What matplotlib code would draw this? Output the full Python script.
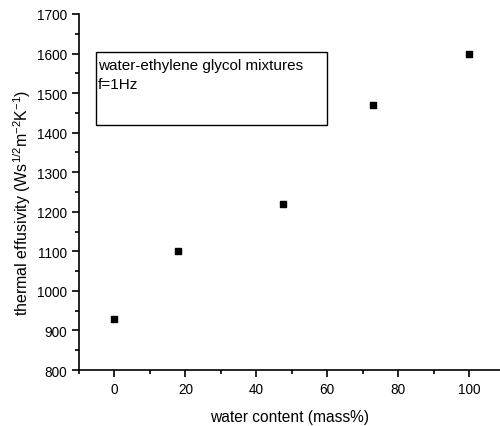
import matplotlib
matplotlib.use('Agg')
import matplotlib.pyplot as plt
from matplotlib.patches import Rectangle
from matplotlib.ticker import MultipleLocator

water = [0, 18, 47.5, 73, 100]
effusivity = [930, 1100, 1220, 1470, 1600]

plt.rcParams['font.family'] = ['Liberation Sans', 'DejaVu Sans']
plt.rcParams['mathtext.fontset'] = 'custom'
plt.rcParams['mathtext.rm'] = 'Liberation Sans'
plt.rcParams['mathtext.default'] = 'regular'

fig = plt.figure(figsize=(5, 4.27), dpi=100)
ax = fig.add_axes([0.158, 0.131, 0.842, 0.834])
ax.scatter(water, effusivity, marker='s', s=22, color='black', zorder=3)

ax.set_xlim(-10, 108.7)
ax.set_ylim(800, 1700)
ax.xaxis.set_major_locator(MultipleLocator(20))
ax.xaxis.set_minor_locator(MultipleLocator(10))
ax.yaxis.set_major_locator(MultipleLocator(100))
ax.yaxis.set_minor_locator(MultipleLocator(50))
for s in ['top', 'right']:
    ax.spines[s].set_visible(False)
for s in ['left', 'bottom']:
    ax.spines[s].set_linewidth(1.2)
ax.tick_params(which='major', direction='out', length=5, width=1.2, labelsize=9.8)
ax.tick_params(which='minor', direction='out', length=3, width=1.2)
ax.set_xlabel('water content (mass%)', fontsize=11.2)
ax.xaxis.set_label_coords(0.5, -0.108)
ax.set_ylabel(r'thermal effusivity (Ws$^{1/2}$m$^{-2}$K$^{-1}$)', fontsize=11.5)
ax.yaxis.set_label_coords(-0.11, 0.472)

ax.add_patch(Rectangle((0.040, 0.688), 0.549, 0.205, transform=ax.transAxes,
                       fill=False, edgecolor='black', linewidth=1.0))
ax.text(0.044, 0.875, 'water-ethylene glycol mixtures\nf=1Hz', transform=ax.transAxes,
        va='top', ha='left', fontsize=11, linespacing=1.4)

fig.savefig('out.png', dpi=100)
